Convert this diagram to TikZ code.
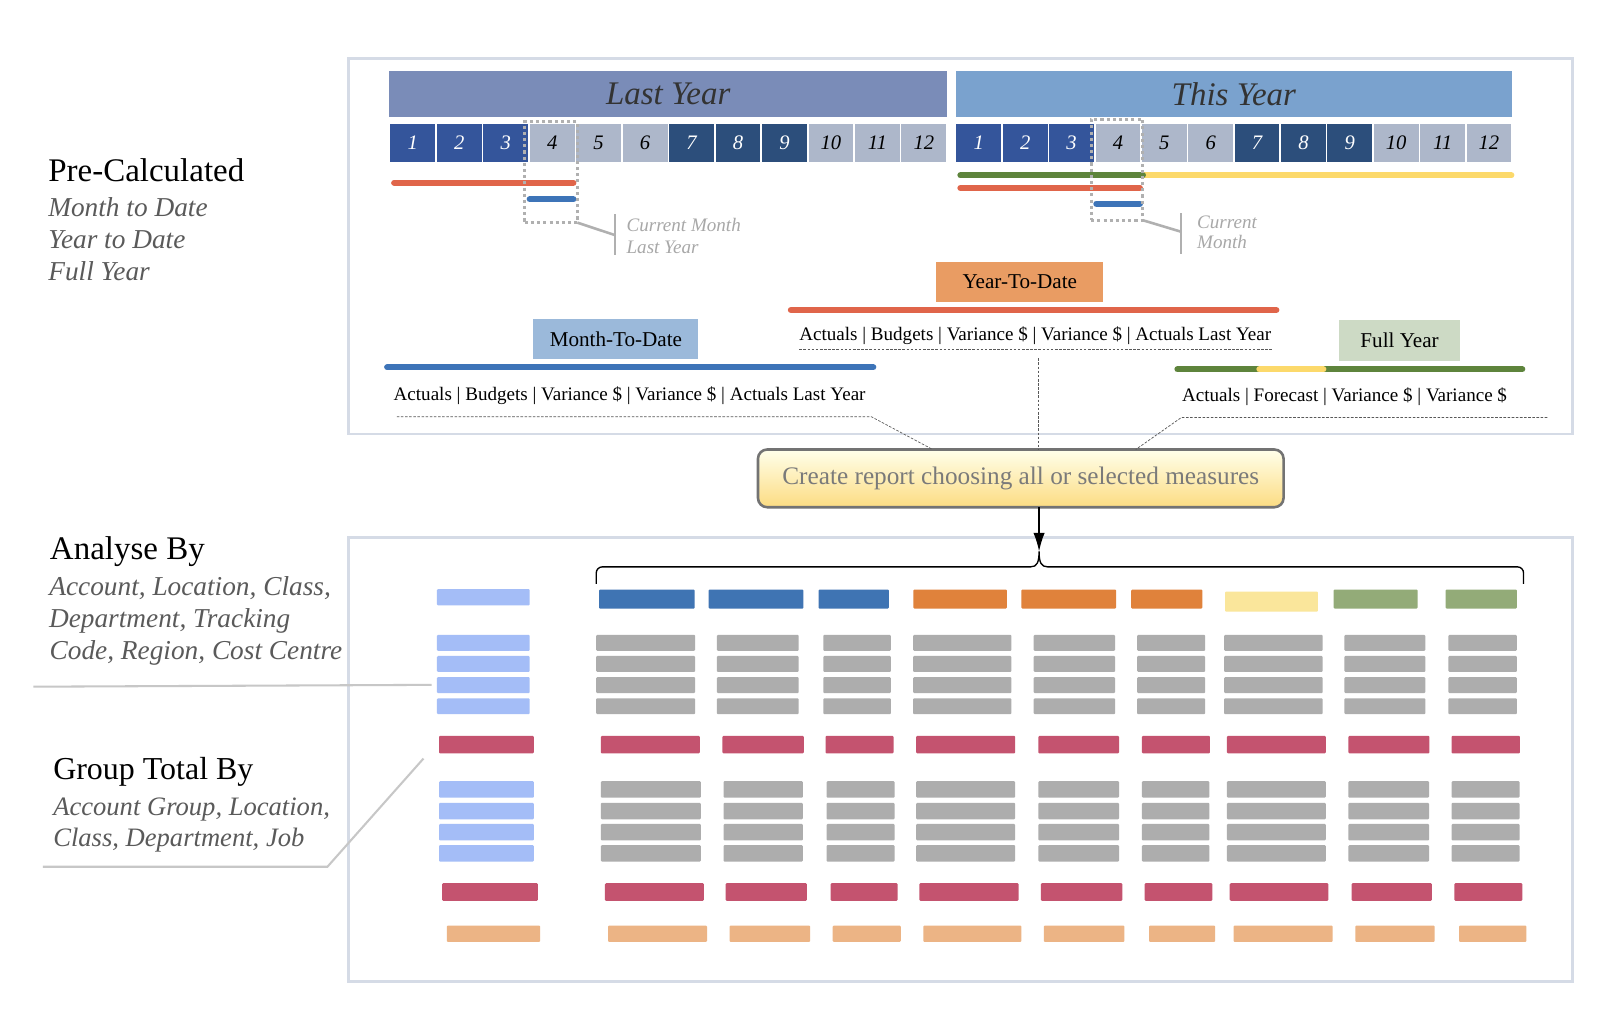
\documentclass[tikz,border=0pt]{standalone}
\usepackage{fontspec}
\setmainfont{Liberation Serif}
\usetikzlibrary{arrows.meta}
\definecolor{boxline}{HTML}{D5DBE6}
\definecolor{lyBan}{HTML}{7A8CB8}
\definecolor{tyBan}{HTML}{7AA2CE}
\definecolor{cellA}{HTML}{34559B}
\definecolor{cellB}{HTML}{ADB7CA}
\definecolor{cellC}{HTML}{2C4E7B}
\definecolor{redL}{HTML}{E0654A}
\definecolor{bluL}{HTML}{3D74B8}
\definecolor{grnL}{HTML}{5E843C}
\definecolor{yelL}{HTML}{FCD96B}
\definecolor{ytdBox}{HTML}{E99C63}
\definecolor{mtdBox}{HTML}{9BB9DA}
\definecolor{fyBox}{HTML}{CDDAC5}
\definecolor{calloutG}{HTML}{B0B0B0}
\definecolor{callTxt}{HTML}{A8A8A8}
\definecolor{greyBlk}{HTML}{ADADAD}
\definecolor{ltBlue}{HTML}{A4BDF7}
\definecolor{hdBlue}{HTML}{3F74B3}
\definecolor{hdOrange}{HTML}{E0823B}
\definecolor{hdYellow}{HTML}{FAE69B}
\definecolor{hdGreen}{HTML}{93AB78}
\definecolor{redBlk}{HTML}{C4536F}
\definecolor{peachBlk}{HTML}{ECB485}
\definecolor{txtGrey}{HTML}{5A5A5A}
\definecolor{bannerTxt}{HTML}{333333}
\newcommand\fsz[1]{\fontsize{#1}{#1}\selectfont}
\begin{document}
\begin{tikzpicture}[x=1pt,y=-1pt,
  every node/.style={inner sep=0pt, outer sep=0pt},
  frame/.style={draw=boxline, line width=2.5pt},
  banner/.style={minimum height=45pt, font=\fsz{32}\itshape, text=bannerTxt},
  cellbox/.style={minimum width=43.5pt, minimum height=36.5pt, font=\fsz{20}\itshape},
  bar/.style={line width=6pt, line cap=round},
  dotbox/.style={draw=calloutG, line width=3pt, dash pattern=on 3pt off 3pt},
  callout/.style={draw=calloutG, line width=2.5pt},
  calltxt/.style={font=\fsz{18.5}\itshape, text=callTxt},
  lbl/.style={font=\fsz{20.5}, text=black},
  meas/.style={font=\fsz{18.5}, text=black},
  dashc/.style={draw=black!65, line width=0.7pt, dash pattern=on 2.5pt off 1.5pt},
  hd/.style={font=\fsz{32}, text=black},
  itx/.style={font=\fsz{26.5}\itshape, text=txtGrey},
  itg/.style={font=\fsz{25.8}\itshape, text=txtGrey},
  sideline/.style={draw=black!22, line width=2pt}
]
\useasboundingbox (0,0) rectangle (1568,996);
\fill[white] (0,0) rectangle (1568,996);

% frames
\draw[frame] (338.3,56.6) rectangle (1525.5,421);
\draw[frame] (338.3,521.4) rectangle (1525.5,952.5);

% banners
\node[banner, fill=lyBan, minimum width=541pt] (ly) at (648.4,91) {Last Year};
\node[banner, fill=tyBan, minimum width=540pt] (ty) at (1197.2,91) {This Year};

% month cells
\foreach \i/\c/\t in {1/cellA/white,2/cellA/white,3/cellA/white,4/cellB/black,5/cellB/black,6/cellB/black,7/cellC/white,8/cellC/white,9/cellC/white,10/cellB/black,11/cellB/black,12/cellB/black}{
  \node[cellbox, fill=\c, text=\t] (ly\i) at ({378+(\i-0.5)*45.08},138.5) {\i};
  \node[cellbox, fill=\c, text=\t] (ty\i) at ({927.2+(\i-0.5)*45.0},138.5) {\i};
}

% period bars
\draw[bar, redL] (382.5,177.3) -- (556.3,177.3);
\draw[bar, bluL] (514,193.4) -- (556.3,193.4);
\draw[bar, yelL] (1108.9,170.1) -- (1466.4,170.1);
\draw[bar, grnL] (931.9,170.1) -- (1108.9,170.1);
\draw[bar, redL] (931.9,182.4) -- (1106,182.4);
\draw[bar, bluL] (1063.8,197.6) -- (1106,197.6);

% current month boxes and callouts
\node[dotbox, minimum width=51pt, minimum height=98pt] (lyCur) at (534.7,167) {};
\node[dotbox, minimum width=50pt, minimum height=98pt] (tyCur) at (1083.75,164.65) {};
\coordinate (lyBarT) at (596.6,208);
\coordinate (lyBarB) at (596.6,247.5);
\coordinate (lyBarM) at (596.6,228.1);
\draw[callout] (lyBarT) -- (lyBarB);
\draw[callout] (lyCur.south east) -- (lyBarM);
\node[calltxt, anchor=base west] (lyT1) at (608,224.8) {Current Month};
\node[calltxt, anchor=base west] (lyT2) at (608,245.8) {Last Year};
\coordinate (tyBarT) at (1145.8,207);
\coordinate (tyBarB) at (1145.8,246.5);
\coordinate (tyBarM) at (1145.8,224.8);
\draw[callout] (tyBarT) -- (tyBarB);
\draw[callout] (tyCur.south east) -- (tyBarM);
\node[calltxt, anchor=base west] (tyT1) at (1161.6,221.5) {Current};
\node[calltxt, anchor=base west] (tyT2) at (1161.6,241.6) {Month};

% create report box
\node[draw=black!55, line width=2.5pt, rounded corners=9pt, top color=yellow!8!white, bottom color={rgb,255:red,252;green,220;blue,130},
      minimum width=510pt, minimum height=56pt, font=\fsz{24.5}, text=black!52] (create) at (990.45,464.15)
      {Create report choosing all or selected measures};

% Year-To-Date
\node[lbl, fill=ytdBox, minimum width=161.8pt, minimum height=38.8pt] (ytd) at (989.5,273.3) {Year-To-Date};
\draw[bar, redL] (767.4,300.8) -- (1238.4,300.8);
\node[meas, anchor=base west] (ytdTxt) at (775.6,329.9) {Actuals | Budgets | Variance \$ | Variance \$ | Actuals Last Year};
\coordinate (ytdDL) at (775.6,339);
\coordinate (ytdDR) at (1234.6,339);
\draw[dashc] (ytdDL) -- (ytdDR);
\coordinate (ytdV) at (1007.1,347.7);
\draw[dashc] (ytdV) -- (ytdV |- create.north);

% Month-To-Date
\node[lbl, fill=mtdBox, minimum width=160pt, minimum height=38.8pt] (mtd) at (597.6,329.2) {Month-To-Date};
\draw[bar, bluL] (375.7,356.4) -- (847.3,356.4);
\node[meas, anchor=base west] (mtdTxt) at (382,388.2) {Actuals | Budgets | Variance \$ | Variance \$ | Actuals Last Year};
\coordinate (mtdDL) at (385,404.3);
\coordinate (mtdDR) at (845.4,404.3);
\coordinate (mtdE) at (905,0);
\draw[dashc] (mtdDL) -- (mtdDR) -- (mtdE |- create.north);

% Full Year
\node[lbl, fill=fyBox, minimum width=117.8pt, minimum height=39.3pt] (fy) at (1358,330.6) {Full Year};
\draw[bar, grnL] (1142.5,358.4) -- (1477,358.4);
\draw[bar, yelL] (1222,358.4) -- (1284,358.4);
\node[meas, anchor=base west] (fyTxt) at (1147,389.7) {Actuals | Forecast | Variance \$ | Variance \$};
\coordinate (fyDR) at (1501.3,405);
\coordinate (fyDL) at (1146.4,405);
\coordinate (fyE) at (1102,0);
\draw[dashc] (fyDR) -- (fyDL) -- (fyE |- create.north);

% brace and arrow
\coordinate (brL) at (578.5,566.5);
\coordinate (brR) at (1478.3,566.5);
\coordinate (brTip) at (1008.2,535);
\draw[line width=1.3pt] (brL) -- (578.5,556) to[out=90,in=180] (584.5,550) -- (1000,550)
   .. controls (1006,550) and (1008.2,546) .. (brTip)
   .. controls (1008.2,546) and (1010.4,550) .. (1016.4,550) -- (1472.3,550)
   to[out=0,in=90] (1478.3,556) -- (brR);
\draw[line width=1.3pt, -{Latex[length=18pt,width=11pt]}] (brTip |- create.south) -- (brTip);

% left texts
\node[hd, anchor=base west] (pre) at (46.9,176.3) {Pre-Calculated};
\node[itx, anchor=base west] (pre1) at (46.9,210) {Month to Date};
\node[itx, anchor=base west] (pre2) at (46.9,241.2) {Year to Date};
\node[itx, anchor=base west] (pre3) at (46.9,272) {Full Year};

\node[hd, anchor=base west] (an) at (48.5,543) {Analyse By};
\node[itx, anchor=base west] (an1) at (47.9,577.5) {Account, Location, Class,};
\node[itx, anchor=base west] (an2) at (47.6,608.5) {Department, Tracking};
\node[itx, anchor=base west] (an3) at (48.2,640) {Code, Region, Cost Centre};

\node[hd, font=\fsz{31}, anchor=base west] (gt) at (51.7,756.8) {Group Total By};
\node[itg, anchor=base west] (gt1) at (51.7,791.5) {Account Group, Location,};
\node[itg, anchor=base west] (gt2) at (51.7,821) {Class, Department, Job};

\coordinate (anL) at (32.3,666.3);
\coordinate (anR) at (418.9,664.5);
\draw[sideline] (anL) -- (anR);
\coordinate (gtL) at (41.7,841);
\coordinate (gtK) at (317.7,841);
\coordinate (gtR) at (410.9,736);
\draw[sideline] (gtL) -- (gtK) -- (gtR);

% report header row
\foreach \a/\b/\c in {581.2/674.1/hdBlue, 687.5/779.6/hdBlue, 794.2/862.5/hdBlue, 886.3/977/hdOrange, 991/1083/hdOrange, 1097.6/1166.7/hdOrange, 1294/1375.5/hdGreen, 1402.7/1471.8/hdGreen}
  \fill[\c, rounded corners=1pt] (\a,572) rectangle (\b,590.5);
\fill[hdYellow, rounded corners=1pt] (1188.6,574) rectangle (1278.8,593.5);
\fill[ltBlue, rounded corners=1pt] (424,571.5) rectangle (514,587.5);

% group 1 rows
\foreach \y in {616,636.5,657,677.5}{
  \fill[ltBlue, rounded corners=1pt] (424,\y) rectangle (514,\y+15.5);
  \foreach \a/\b in {578.5/674.5, 695.6/775, 798.8/864.4, 886/981.4, 1003/1082, 1103.4/1169.4, 1187.8/1283.4, 1304.5/1383, 1405.4/1471.8}
    \fill[greyBlk, rounded corners=1pt] (\a,\y) rectangle (\b,\y+15.5);
}
% subtotal 1
\foreach \a/\b in {426/518, 583/679, 701/780, 801/867, 889/985, 1007.5/1085.8, 1108/1174, 1190.5/1286.4, 1308.3/1387, 1408.4/1474.8}
  \fill[redBlk, rounded corners=1pt] (\a,714) rectangle (\b,731);
% group 2 rows
\foreach \y in {758,779,799.5,820}{
  \fill[ltBlue, rounded corners=1pt] (426,\y) rectangle (518,\y+16);
  \foreach \a/\b in {583/680, 702/779, 802/868, 889/985, 1007.5/1085.8, 1108/1173.5, 1190.5/1286.4, 1308.3/1386.6, 1408.4/1474.4}
    \fill[greyBlk, rounded corners=1pt] (\a,\y) rectangle (\b,\y+16);
}
% subtotal 2
\foreach \a/\b in {429/522, 587/683, 704/783, 806/871, 892/988.3, 1010/1089, 1110.7/1176.3, 1193.2/1289, 1311.4/1389.3, 1411.2/1477.1}
  \fill[redBlk, rounded corners=1pt] (\a,857) rectangle (\b,874);
% grand total
\foreach \a/\b in {433.5/524, 590/686, 708/786, 808/874, 896/991, 1012.8/1091, 1115/1179, 1197/1293, 1315/1392, 1415.7/1481}
  \fill[peachBlk, rounded corners=1pt] (\a,898) rectangle (\b,914);
\end{tikzpicture}
\end{document}
